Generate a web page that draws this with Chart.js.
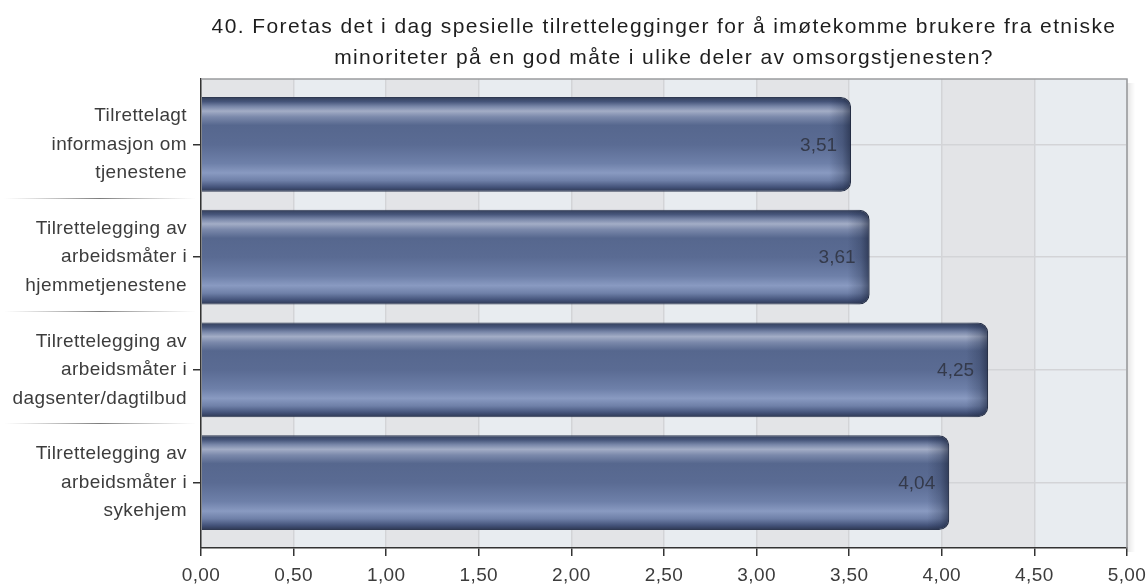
<!DOCTYPE html>
<html>
<head>
<meta charset="utf-8">
<script src="https://cdn.jsdelivr.net/npm/chart.js@4.4.1/dist/chart.umd.min.js"></script>
<style>
  html, body { margin: 0; padding: 0; background: #ffffff; }
  #wrap { width: 1147px; height: 585px; }
</style>
</head>
<body>
<div id="wrap"><canvas id="c" width="1147" height="585"></canvas></div>
<script>
// Question text
const titleLines = [
  '40. Foretas det i dag spesielle tilrettelegginger for å imøtekomme brukere fra etniske',
  'minoriteter på en god måte i ulike deler av omsorgstjenesten?'
];

// Categories (one entry per bar, split into display lines)
const categories = [
  ['Tilrettelagt', 'informasjon om', 'tjenestene'],
  ['Tilrettelegging av', 'arbeidsmåter i', 'hjemmetjenestene'],
  ['Tilrettelegging av', 'arbeidsmåter i', 'dagsenter/dagtilbud'],
  ['Tilrettelegging av', 'arbeidsmåter i', 'sykehjem']
];

// Mean scores
const values = [3.51, 3.61, 4.25, 4.04];

// Value axis range
const axisMin = 0;
const axisMax = 5;
const axisStep = 0.5;

const FONT = "'Liberation Sans', Arial, Helvetica, sans-serif";
const fmt = v => v.toFixed(2).replace('.', ',');

// Alternating vertical bands behind the plot, label separators, frame
const bandsPlugin = {
  id: 'bands',
  beforeDraw(chart) {
    const { ctx, chartArea: a, scales: { x } } = chart;
    ctx.letterSpacing = '0.4px';
    ctx.save();
    const ticks = x.ticks;
    for (let i = 0; i < ticks.length - 1; i++) {
      const x0 = x.getPixelForValue(ticks[i].value);
      const x1 = x.getPixelForValue(ticks[i + 1].value);
      ctx.fillStyle = i % 2 === 0 ? '#e3e4e7' : '#e8ecf0';
      ctx.fillRect(x0, a.top, x1 - x0, a.bottom - a.top);
    }
    // separators between the category labels
    const y = chart.scales.y;
    for (let i = 0; i < categories.length - 1; i++) {
      const py = Math.round((y.getPixelForValue(i) + y.getPixelForValue(i + 1)) / 2) - 2.5;
      const g = ctx.createLinearGradient(4, 0, 196, 0);
      g.addColorStop(0, 'rgba(150,150,150,0)');
      g.addColorStop(0.5, 'rgba(110,110,110,0.9)');
      g.addColorStop(1, 'rgba(150,150,150,0)');
      ctx.strokeStyle = g;
      ctx.lineWidth = 1.2;
      ctx.beginPath();
      ctx.moveTo(4, py);
      ctx.lineTo(196, py);
      ctx.stroke();
    }
    ctx.restore();
  },
  beforeDatasetsDraw(chart) {
    const { ctx, chartArea: a } = chart;
    ctx.save();
    // soft shadow right of the frame
    const sg = ctx.createLinearGradient(a.right, 0, a.right + 8, 0);
    sg.addColorStop(0, 'rgba(0,0,0,0.10)');
    sg.addColorStop(1, 'rgba(0,0,0,0)');
    ctx.fillStyle = sg;
    ctx.fillRect(a.right, a.top + 4, 8, a.bottom - a.top);
    // top and right frame
    ctx.strokeStyle = '#9b9c9f';
    ctx.lineWidth = 1.5;
    ctx.beginPath();
    ctx.moveTo(a.left, a.top);
    ctx.lineTo(a.right, a.top);
    ctx.lineTo(a.right, a.bottom);
    ctx.stroke();
    ctx.restore();
  }
};

// Tube shading at the rounded end of each bar, then the value labels
const barDecorPlugin = {
  id: 'barDecor',
  afterDatasetsDraw(chart) {
    const { ctx } = chart;
    const meta = chart.getDatasetMeta(0);
    ctx.save();
    meta.data.forEach((bar, i) => {
      const p = bar.getProps(['x', 'y', 'base', 'height'], true);
      const top = p.y - p.height / 2;
      const r = 10;
      ctx.save();
      ctx.beginPath();
      ctx.moveTo(p.base, top);
      ctx.lineTo(p.x - r, top);
      ctx.arcTo(p.x, top, p.x, top + r, r);
      ctx.lineTo(p.x, top + p.height - r);
      ctx.arcTo(p.x, top + p.height, p.x - r, top + p.height, r);
      ctx.lineTo(p.base, top + p.height);
      ctx.closePath();
      ctx.clip();
      const g = ctx.createLinearGradient(p.x - 22, 0, p.x, 0);
      g.addColorStop(0, 'rgba(25,35,60,0)');
      g.addColorStop(0.6, 'rgba(25,35,60,0.25)');
      g.addColorStop(1, 'rgba(20,28,50,0.6)');
      ctx.fillStyle = g;
      ctx.fillRect(p.x - 22, top, 22, p.height);
      ctx.restore();

      ctx.fillStyle = '#343a4b';
      ctx.font = '19px ' + FONT;
      ctx.letterSpacing = '0px';
      ctx.textAlign = 'right';
      ctx.textBaseline = 'middle';
      ctx.fillText(fmt(values[i]), p.x - 14, p.y + 1);
    });
    ctx.restore();
  }
};

// Title centred over the plot area
const titlePlugin = {
  id: 'titleText',
  afterDraw(chart) {
    const { ctx, chartArea: a } = chart;
    ctx.save();
    ctx.fillStyle = '#1e1e1e';
    ctx.font = '21px ' + FONT;
    ctx.letterSpacing = '1.4px';
    ctx.textAlign = 'center';
    ctx.textBaseline = 'alphabetic';
    const cx = (a.left + a.right) / 2;
    ctx.fillText(titleLines[0], cx, 33);
    ctx.fillText(titleLines[1], cx, 64);
    ctx.restore();
  }
};

function tubeFill(context) {
  const chart = context.chart;
  const { chartArea, scales } = chart;
  if (!chartArea || !scales.y) return '#56688f';
  const meta = chart.getDatasetMeta(0);
  const el = meta.data[context.dataIndex];
  let cy, h;
  if (el && el.height) {
    cy = el.y; h = el.height;
  } else {
    cy = scales.y.getPixelForValue(context.dataIndex);
    h = 95;
  }
  const top = cy - h / 2;
  const g = chart.ctx.createLinearGradient(0, top, 0, top + h);
  g.addColorStop(0.00, '#323d58');
  g.addColorStop(0.05, '#46557a');
  g.addColorStop(0.10, '#7886a8');
  g.addColorStop(0.15, '#a3adc6');
  g.addColorStop(0.21, '#7b89ab');
  g.addColorStop(0.30, '#56678e');
  g.addColorStop(0.50, '#5a6b93');
  g.addColorStop(0.70, '#6e80a9');
  g.addColorStop(0.80, '#899ac1');
  g.addColorStop(0.88, '#6f80a8');
  g.addColorStop(0.95, '#44537a');
  g.addColorStop(1.00, '#2c3650');
  return g;
}

new Chart(document.getElementById('c'), {
  type: 'bar',
  data: {
    datasets: [{
      data: values.map((v, i) => ({ x: v, y: i })),
      backgroundColor: tubeFill,
      borderColor: '#2f3952',
      borderWidth: 1,
      borderSkipped: 'start',
      borderRadius: 10,
      categoryPercentage: 1,
      barPercentage: 0.84
    }]
  },
  options: {
    indexAxis: 'y',
    responsive: false,
    animation: false,
    devicePixelRatio: 1,
    layout: { padding: { top: 79, right: 20, left: 0, bottom: 0 } },
    plugins: {
      legend: { display: false },
      tooltip: { enabled: false },
      title: { display: false }
    },
    scales: {
      x: {
        type: 'linear',
        min: axisMin,
        max: axisMax,
        ticks: {
          stepSize: axisStep,
          callback: v => fmt(v),
          color: '#3c3c3c',
          font: { family: FONT, size: 19 },
          padding: 8,
          maxRotation: 0
        },
        grid: {
          color: '#d3d4d7',
          lineWidth: 1.5,
          tickColor: '#333333',
          tickLength: 8,
          tickWidth: 1.5
        },
        border: { color: '#333333', width: 1.5 },
        afterFit: s => { s.height = 37; s.paddingLeft = 0; s.paddingRight = 0; }
      },
      y: {
        type: 'linear',
        reverse: true,
        offset: false,
        min: -0.58,
        max: 3.58,
        ticks: {
          stepSize: 1,
          includeBounds: false,
          callback: v => categories[v],
          color: '#3c3c3c',
          font: { family: FONT, size: 19, lineHeight: 1.5 },
          padding: 6
        },
        grid: {
          offset: false,
          color: '#d3d4d7',
          lineWidth: 1.5,
          tickColor: '#333333',
          tickLength: 8,
          tickWidth: 1.5
        },
        border: { color: '#333333', width: 1.5 },
        afterFit: s => { s.width = 201; s.paddingTop = 0; s.paddingBottom = 0; }
      }
    }
  },
  plugins: [bandsPlugin, barDecorPlugin, titlePlugin]
});
</script>
</body>
</html>
